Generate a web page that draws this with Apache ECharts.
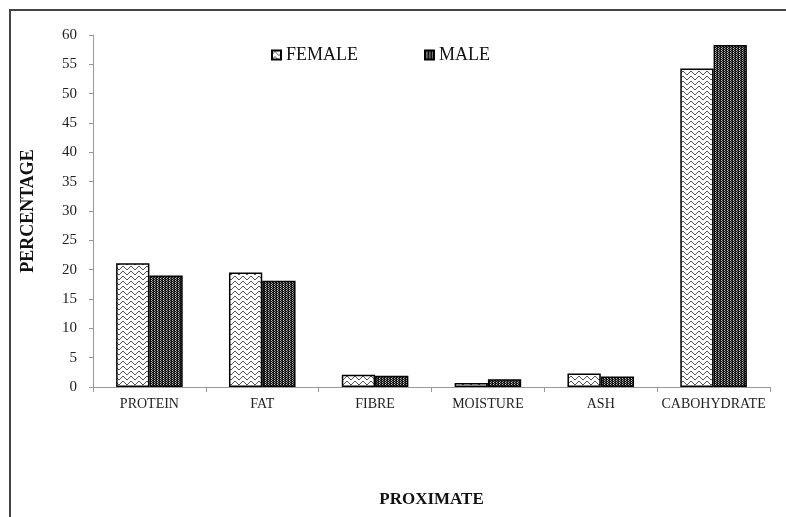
<!DOCTYPE html>
<html><head><meta charset="utf-8">
<script src="https://cdn.jsdelivr.net/npm/echarts@6/dist/echarts.min.js"></script>
<style>html,body{margin:0;padding:0;background:#fff}#c{width:786px;height:517px}</style>
</head><body><div id="c"></div>
<script>
const categories = ['PROTEIN','FAT','FIBRE','MOISTURE','ASH','CABOHYDRATE'];
const female = [21.1, 19.5, 2.1, 0.7, 2.3, 54.3];
const male = [19.0, 18.1, 1.9, 1.3, 1.8, 58.3];
const yTicks = {min: 0, max: 60, interval: 5};

function femalePattern(){
  const c = document.createElement('canvas'); c.width = 8; c.height = 5;
  const g = c.getContext('2d');
  g.fillStyle = '#fff'; g.fillRect(0,0,8,5);
  g.fillStyle = '#555';
  const ys = [3,2,1,1,2,3,4,4];
  for (let x = 0; x < 8; x++) g.fillRect(x, ys[x], 1, 1);
  return c;
}
function malePattern(){
  const c = document.createElement('canvas'); c.width = 6; c.height = 4;
  const g = c.getContext('2d');
  g.fillStyle = '#141414'; g.fillRect(0,0,6,4);
  const px = [[1,0,'#d0d0d0'],[1,2,'#d0d0d0'],[2,1,'#888'],[2,3,'#888'],[4,0,'#bbb'],[4,2,'#bbb'],[5,1,'#777'],[5,3,'#777']];
  px.forEach(p => { g.fillStyle = p[2]; g.fillRect(p[0], p[1], 1, 1); });
  return c;
}
const fPat = {image: femalePattern(), repeat: 'repeat'};
const mPat = {image: malePattern(), repeat: 'repeat'};
const font = '"Liberation Serif", "Times New Roman", serif';

const chart = echarts.init(document.getElementById('c'), null, {renderer: 'canvas'});
chart.setOption({
  animation: false,
  backgroundColor: '#fff',
  textStyle: {fontFamily: font},
  graphic: [{type: 'rect', shape: {x: 10, y: 10, width: 800, height: 600}, style: {fill: 'none', stroke: '#444', lineWidth: 2}, z: 100}],
  legend: [
    {data: ['FEMALE'], left: 266, top: 41, itemWidth: 9, itemHeight: 9, itemGap: 3, icon: 'rect',
     textStyle: {fontFamily: font, fontSize: 18, color: '#111'}},
    {data: ['MALE'], left: 419, top: 41, itemWidth: 9, itemHeight: 9, itemGap: 3, icon: 'rect',
     textStyle: {fontFamily: font, fontSize: 18, color: '#111'}}
  ],
  grid: {left: 93, right: 16, top: 35, bottom: 130, containLabel: false},
  xAxis: {
    type: 'category', data: categories,
    name: 'PROXIMATE', nameLocation: 'middle', nameGap: 104,
    nameTextStyle: {fontFamily: font, fontSize: 17, fontWeight: 'bold', color: '#111'},
    axisLine: {lineStyle: {color: '#999', width: 1}},
    axisTick: {show: true, interval: 0, length: 5, lineStyle: {color: '#999'}},
    axisLabel: {interval: 0, fontFamily: font, fontSize: 14, color: '#222', margin: 10}
  },
  yAxis: {
    type: 'value', min: yTicks.min, max: yTicks.max, interval: yTicks.interval,
    name: 'PERCENTAGE', nameLocation: 'middle', nameGap: 56, nameRotate: 90,
    nameTextStyle: {fontFamily: font, fontSize: 18, fontWeight: 'bold', color: '#111'},
    axisLine: {show: true, lineStyle: {color: '#999', width: 1}},
    axisTick: {show: true, length: 4, lineStyle: {color: '#999'}},
    splitLine: {show: false},
    axisLabel: {fontFamily: font, fontSize: 15, color: '#222', margin: 16}
  },
  series: [
    {name: 'FEMALE', type: 'bar', data: female, barGap: '0%', barCategoryGap: '41%',
     itemStyle: {color: fPat, borderColor: '#000', borderWidth: 1.5}},
    {name: 'MALE', type: 'bar', data: male,
     itemStyle: {color: mPat, borderColor: '#000', borderWidth: 1.5}}
  ]
});
</script></body></html>
